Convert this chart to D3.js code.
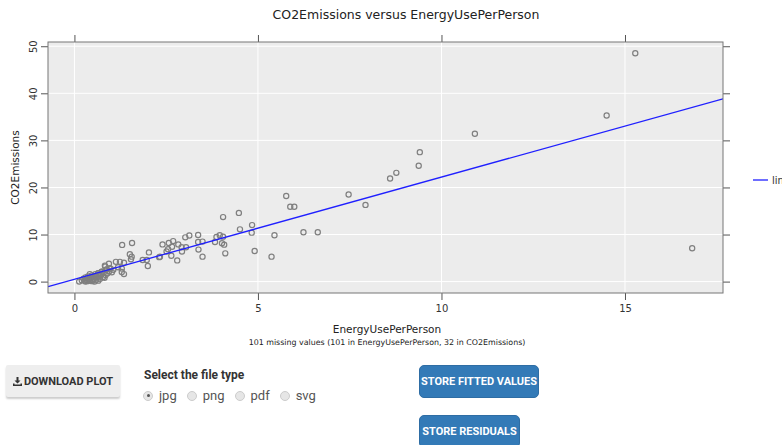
<!DOCTYPE html>
<html>
<head>
<meta charset="utf-8">
<script src="https://cdn.jsdelivr.net/npm/d3@7"></script>
<style>
  body { margin: 0; background: #fff; font-family: "DejaVu Sans", sans-serif; overflow: hidden; }
  #page { position: relative; width: 782px; height: 445px; overflow: hidden; }
  #plot { position: absolute; left: 0; top: 0; }
  .btn { position: absolute; font-family: "Liberation Sans Narrow", "Roboto", sans-serif; font-weight: bold;
         font-size: 11px; box-sizing: border-box; display: flex; align-items: center; justify-content: center; }
  #download { left: 6px; top: 365px; width: 114px; height: 32px; background: #eeeeee; color: #333;
              box-shadow: 0 2px 2px rgba(0,0,0,0.2); border-radius: 2px; }
  #download svg { margin-right: 2px; }
  .blue { background: #337ab7; color: #fff; border-radius: 5px; border: 1px solid #2e6da4; }
  #fitted { left: 419px; top: 365px; width: 120px; height: 33px; }
  #resid { left: 419px; top: 415px; width: 101px; height: 33px; }
  #filetype { position: absolute; left: 144px; top: 368px; font-family: "Liberation Sans Narrow", "Roboto", sans-serif;
              font-weight: bold; font-size: 12px; color: #333; }
  #radios { position: absolute; left: 143px; top: 388px; font-family: "Liberation Sans Narrow", "Roboto", sans-serif;
            font-size: 13px; color: #555; display: flex; align-items: center; }
  .radio { display: flex; align-items: center; margin-right: 10px; }
  .circ { width: 10px; height: 10px; border-radius: 50%; background: #e6e6e6; border: 1px solid #ccc;
          margin-right: 6px; box-sizing: border-box; position: relative; }
  .circ.on::after { content: ""; position: absolute; left: 2.5px; top: 2.5px; width: 3px; height: 3px;
                    border-radius: 50%; background: #555; }
</style>
</head>
<body>
<div id="page">
  <div id="plot"></div>
  <div id="download" class="btn">
    <svg width="9" height="9" viewBox="0 0 9 9"><path d="M3.5 0h2v3.5h2l-3 3-3-3h2z M0 6.5h1.5v1h6v-1H9V9H0z" fill="#333"/></svg>
    DOWNLOAD PLOT</div>
  <div id="filetype">Select the file type</div>
  <div id="radios"></div>
  <div id="fitted" class="btn blue">STORE FITTED VALUES</div>
  <div id="resid" class="btn blue">STORE RESIDUALS</div>
</div>
<script>
// Data
var energyUse = [
  0.13, 0.2, 0.25, 0.28, 0.3, 0.32, 0.35, 0.37, 0.4, 0.42, 0.45, 0.47, 0.5, 0.52, 0.55, 0.57, 0.6, 0.62,
  0.65, 0.68, 0.7, 0.72, 0.75, 0.78, 0.8, 0.42, 0.55, 0.65, 0.85, 0.88, 0.9, 0.95, 0.97, 1.02, 0.35, 0.48,
  0.6, 0.38, 0.3, 0.82,
  0.84, 0.94, 1.13, 1.24, 1.35, 0.83, 1.19, 1.29, 1.35, 1.29, 1.06, 0.97, 0.88, 0.74, 0.65,
  1.30, 1.57, 1.51, 1.56, 1.54, 2.03, 1.86, 1.97, 2.00, 2.31, 2.55,
  2.33, 2.40, 2.57, 2.69, 2.83, 2.92, 3.04, 2.66, 2.51, 2.64, 2.93, 2.80, 3.02, 3.13,
  3.37, 3.49, 3.37, 3.38, 3.49, 3.83, 3.87, 3.96, 4.05, 4.02, 4.08, 4.11, 4.05,
  4.48, 4.51, 4.84, 4.83, 4.91, 5.37, 5.45,
  5.77, 5.88, 5.99, 6.24, 6.63, 7.47, 7.93, 8.60, 8.77, 9.38, 9.41, 10.91, 14.50, 15.28, 16.83
];
var co2 = [
  0.0, 0.3, 0.6, 0.2, 0.9, 0.4, 0.1, 1.1, 0.5, 0.2, 0.8, 1.3, 0.3, 0.6, 1.0, 1.6, 0.4, 0.9,
  1.8, 1.2, 0.6, 1.5, 2.1, 1.0, 1.9, 1.6, 0.0, 0.2, 1.4, 2.6, 1.8, 2.2, 2.8, 2.0, 0.7, 0.1,
  1.3, 0.3, 0.0, 0.8,
  3.2, 3.8, 4.2, 4.2, 4.0, 3.4, 3.05, 2.8, 1.6, 2.05, 2.5, 2.8, 2.6, 2.1, 1.8,
  7.8, 8.2, 5.8, 5.3, 4.75, 6.2, 4.6, 4.6, 3.3, 5.2, 6.9,
  5.3, 7.9, 8.2, 8.6, 7.9, 7.3, 7.3, 7.4, 6.4, 5.5, 6.4, 4.5, 9.4, 9.8,
  9.9, 8.5, 8.4, 6.8, 5.3, 8.4, 9.5, 9.85, 9.55, 8.15, 7.85, 6.0, 13.7,
  14.6, 11.1, 12.0, 10.4, 6.5, 5.3, 9.85,
  18.2, 15.9, 15.9, 10.5, 10.5, 18.5, 16.3, 21.9, 23.1, 24.6, 27.5, 31.4, 35.3, 48.5, 7.1
];
// fitted line (intercept, slope)
var lmCoef = [0.5, 2.17];
var xTicks = [0, 5, 10, 15];
var yTicks = [0, 10, 20, 30, 40, 50];
var fileTypes = ["jpg", "png", "pdf", "svg"];

var points = energyUse.map(function (d, i) { return { x: d, y: co2[i] }; });

var panel = { left: 48, top: 42, right: 723, bottom: 293 };

var x = d3.scaleLinear().domain([-0.72, 17.67]).range([panel.left, panel.right]);
var y = d3.scaleLinear().domain([-2.42, 50.9]).range([panel.bottom, panel.top]);

var svg = d3.select("#plot").append("svg")
    .attr("width", 782)
    .attr("height", 350);

// Panel background
svg.append("rect")
    .attr("x", panel.left)
    .attr("y", panel.top)
    .attr("width", panel.right - panel.left)
    .attr("height", panel.bottom - panel.top)
    .attr("fill", "#ececec");

// Grid
svg.selectAll(".vgrid").data(xTicks).enter().append("line")
    .attr("x1", d => x(d)).attr("x2", d => x(d))
    .attr("y1", panel.top).attr("y2", panel.bottom)
    .attr("stroke", "#fff").attr("stroke-width", 1);
svg.selectAll(".hgrid").data(yTicks).enter().append("line")
    .attr("y1", d => y(d)).attr("y2", d => y(d))
    .attr("x1", panel.left).attr("x2", panel.right)
    .attr("stroke", "#fff").attr("stroke-width", 1);

// Axes (ticks on all four sides, labels on left and bottom)
function styleAxis(g) {
    g.select(".domain").remove();
    g.selectAll(".tick line").attr("stroke", "#555");
    g.selectAll(".tick text").attr("fill", "#333").style("font-family", "DejaVu Sans").style("font-size", "10px");
}
svg.append("g")
    .attr("transform", "translate(0," + panel.bottom + ")")
    .call(d3.axisBottom(x).tickValues(xTicks).tickSize(7).tickPadding(5))
    .call(styleAxis);
svg.append("g")
    .attr("transform", "translate(0," + panel.top + ")")
    .call(d3.axisTop(x).tickValues(xTicks).tickSize(7).tickFormat(""))
    .call(styleAxis);
var yl = svg.append("g")
    .attr("transform", "translate(" + panel.left + ",0)")
    .call(d3.axisLeft(y).tickValues(yTicks).tickSize(7).tickPadding(6))
    .call(styleAxis);
yl.selectAll(".tick text")
    .attr("transform", "rotate(-90)")
    .attr("x", 0).attr("y", -11)
    .attr("dy", "0")
    .attr("text-anchor", "middle");
svg.append("g")
    .attr("transform", "translate(" + panel.right + ",0)")
    .call(d3.axisRight(y).tickValues(yTicks).tickSize(7).tickFormat(""))
    .call(styleAxis);

// Clip for marks
svg.append("clipPath").attr("id", "clip").append("rect")
    .attr("x", panel.left).attr("y", panel.top)
    .attr("width", panel.right - panel.left).attr("height", panel.bottom - panel.top);

// Points
svg.append("g").attr("clip-path", "url(#clip)")
    .selectAll("circle").data(points).enter().append("circle")
    .attr("cx", d => x(d.x))
    .attr("cy", d => y(d.y))
    .attr("r", 2.6)
    .attr("fill", "none")
    .attr("stroke", "#7f7f7f")
    .attr("stroke-width", 1.2);

// Regression line
var xd = x.domain();
svg.append("line")
    .attr("clip-path", "url(#clip)")
    .attr("x1", x(xd[0])).attr("y1", y(lmCoef[0] + lmCoef[1] * xd[0]))
    .attr("x2", x(xd[1])).attr("y2", y(lmCoef[0] + lmCoef[1] * xd[1]))
    .attr("stroke", "#1f1fff")
    .attr("stroke-width", 1.3);

// Panel border
svg.append("rect")
    .attr("x", panel.left)
    .attr("y", panel.top)
    .attr("width", panel.right - panel.left)
    .attr("height", panel.bottom - panel.top)
    .attr("fill", "none")
    .attr("stroke", "#777")
    .attr("stroke-width", 1);

// Legend (cut off at the window edge, as in the original)
svg.append("line")
    .attr("x1", 753).attr("x2", 768).attr("y1", 180).attr("y2", 180)
    .attr("stroke", "#1f1fff").attr("stroke-width", 1.3);
svg.append("text")
    .attr("x", 772).attr("y", 183.5)
    .style("font-size", "10px").attr("fill", "#333")
    .text("linear");

// Title and labels
svg.append("text")
    .attr("x", 406).attr("y", 19)
    .attr("text-anchor", "middle")
    .style("font-size", "12.5px").attr("fill", "#222")
    .text("CO2Emissions versus EnergyUsePerPerson");
svg.append("text")
    .attr("x", 387).attr("y", 333)
    .attr("text-anchor", "middle")
    .style("font-size", "10.5px").attr("fill", "#222")
    .text("EnergyUsePerPerson");
svg.append("text")
    .attr("x", 387).attr("y", 345)
    .attr("text-anchor", "middle")
    .style("font-size", "7.9px").attr("fill", "#222")
    .text("101 missing values (101 in EnergyUsePerPerson, 32 in CO2Emissions)");
svg.append("text")
    .attr("transform", "translate(19," + ((panel.top + panel.bottom) / 2) + ") rotate(-90)")
    .attr("text-anchor", "middle")
    .style("font-size", "10.5px").attr("fill", "#222")
    .text("CO2Emissions");

// File type radios
var radios = d3.select("#radios").selectAll(".radio").data(fileTypes).enter()
    .append("div").attr("class", "radio");
radios.append("span").attr("class", (d, i) => i === 0 ? "circ on" : "circ");
radios.append("span").text(d => d);
</script>
</body>
</html>
